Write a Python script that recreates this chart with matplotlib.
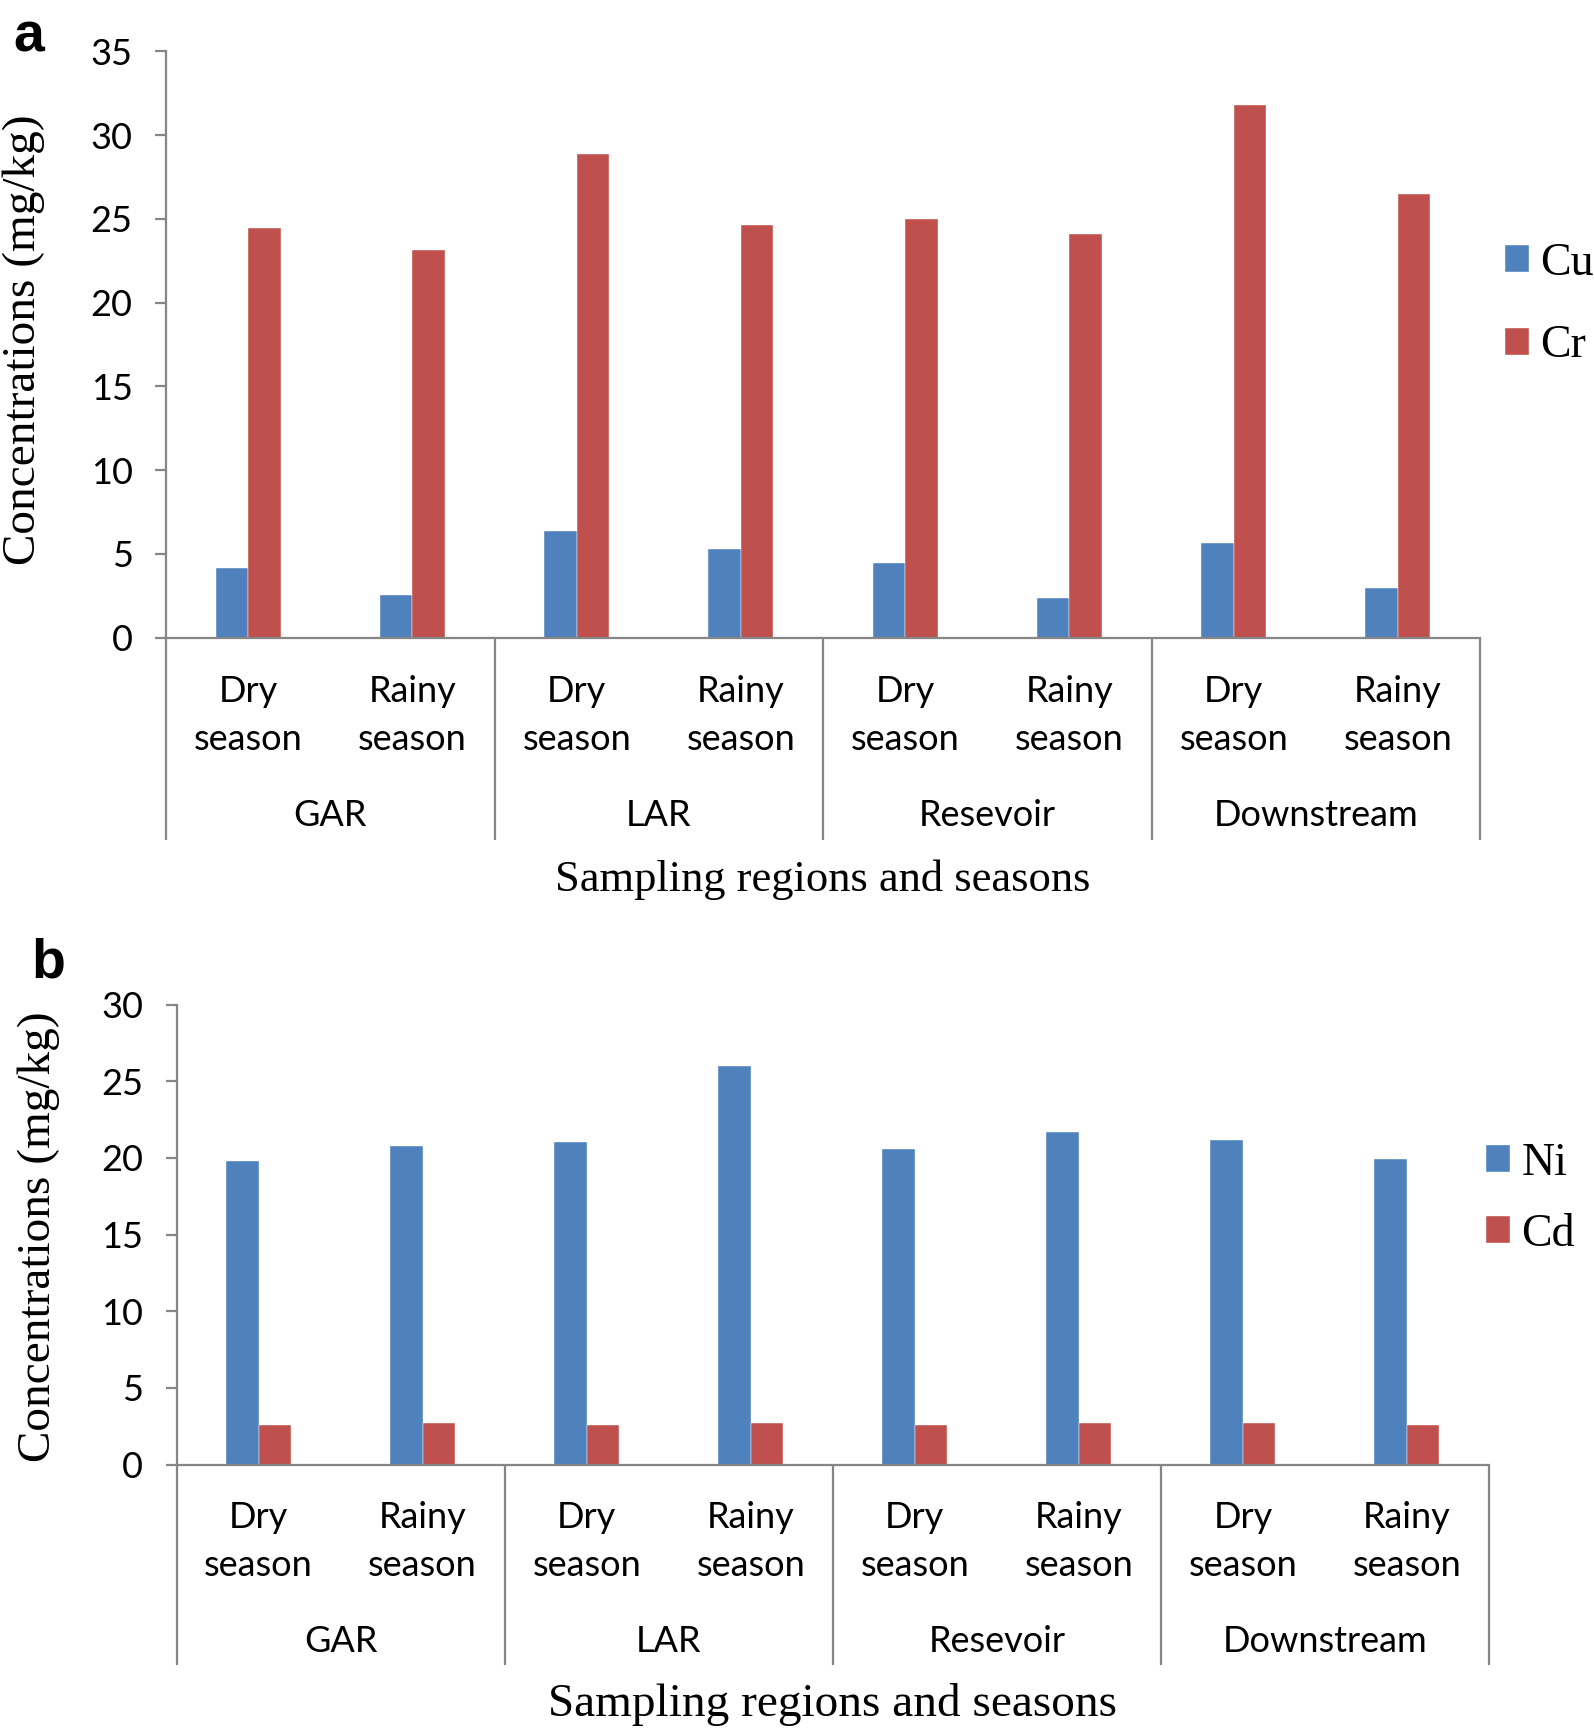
import numpy as np
import matplotlib
matplotlib.use('Agg')
import matplotlib.pyplot as plt
from matplotlib import transforms

# data
regions = ['GAR', 'LAR', 'Resevoir', 'Downstream']
seasons = ['Dry\nseason', 'Rainy\nseason']

cu = [4.17, 2.56, 6.36, 5.28, 4.44, 2.36, 5.65, 2.96]
cr = [24.47, 23.16, 28.87, 24.65, 24.97, 24.07, 31.78, 26.46]
ni = [19.78, 20.80, 21.01, 26.00, 20.61, 21.69, 21.20, 19.92]
cd = [2.58, 2.70, 2.58, 2.70, 2.58, 2.70, 2.70, 2.58]

BLUE = '#4F81BD'
RED = '#C0504D'
GREY = '#868686'
W, H = 1594, 1732
SERIF = 'Liberation Serif'
SANS = ['Lato', 'DejaVu Sans']

fig = plt.figure(figsize=(W / 100, H / 100), dpi=100)


def add_axes_px(left, top, right, bottom):
    # pixel box (from top-left) -> figure fraction
    return fig.add_axes([left / W, 1 - bottom / H, (right - left) / W, (bottom - top) / H])


def below(ax, px):
    # x in data, y = px pixels under the x axis
    return transforms.offset_copy(ax.get_xaxis_transform(), fig=fig, x=0, y=-px, units='dots')


def panel(box, s1, s2, names, ymax, offs, title_size, leg_anchor, leg_space):
    ax = add_axes_px(*box)
    x = np.arange(len(s1))
    w = 0.198
    ax.bar(x - w / 2, s1, w, color=BLUE, label=names[0], edgecolor='white', linewidth=0.3)
    ax.bar(x + w / 2, s2, w, color=RED, label=names[1], edgecolor='white', linewidth=0.3)
    ax.set_xlim(-0.5, len(s1) - 0.5)
    ax.set_ylim(0, ymax)
    ax.set_yticks(np.arange(0, ymax + 1, 5))
    ax.set_xticks([])
    for sp in ['top', 'right']:
        ax.spines[sp].set_visible(False)
    for sp in ['left', 'bottom']:
        ax.spines[sp].set_color(GREY)
        ax.spines[sp].set_linewidth(1.6)
    ax.tick_params(axis='y', direction='out', length=8, width=1.6, color=GREY,
                   labelsize=26, pad=16)
    for t in ax.get_yticklabels():
        t.set_family(SANS)

    # category labels and region dividers
    dry_off, seas_off, reg_off, div_off, title_off = offs
    for i in range(len(s1)):
        word, second = seasons[i % 2].split('\n')
        ax.text(i, 0, word, transform=below(ax, dry_off), ha='center', va='center',
                fontsize=26, family=SANS)
        ax.text(i, 0, second, transform=below(ax, seas_off), ha='center', va='center',
                fontsize=26, family=SANS)
    for j, reg in enumerate(regions):
        ax.text(2 * j + 0.5, 0, reg, transform=below(ax, reg_off), ha='center', va='center',
                fontsize=26, family=SANS)
    axh = (box[3] - box[1])
    for xb in np.arange(-0.5, len(s1), 2):
        ax.vlines(xb, -div_off / axh, 0, transform=ax.get_xaxis_transform(),
                  color=GREY, linewidth=1.6, clip_on=False)
    ax.text(3.5, 0, 'Sampling regions and seasons', transform=below(ax, title_off),
            ha='center', va='center', fontsize=title_size, family=SERIF)

    ax.legend(loc='center left', bbox_to_anchor=leg_anchor, bbox_transform=fig.transFigure,
              frameon=False, prop={'family': SERIF, 'size': 33}, handlelength=0.52,
              handleheight=0.52, handletextpad=0.25, labelspacing=leg_space,
              borderpad=0, borderaxespad=0)
    return ax


ax_a = panel((166, 51.3, 1480, 637.6), cu, cr, ['Cu', 'Cr'], 35,
             (54, 102, 178, 202, 242), 32, (1505 / W, 1 - 305 / H), 0.87)
ax_b = panel((176.5, 1004.6, 1489, 1464.6), ni, cd, ['Ni', 'Cd'], 30,
             (53, 101, 177, 200, 240), 34, (1486 / W, 1 - 1199 / H), 0.63)

fig.text(24 / W, 1 - 340 / H, 'Concentrations (mg/kg)', rotation=90, ha='center',
         va='center', fontsize=34, family=SERIF)
fig.text(39 / W, 1 - 1237 / H, 'Concentrations (mg/kg)', rotation=90, ha='center',
         va='center', fontsize=34, family=SERIF)

fig.text(13 / W, 1 - 52 / H, 'a', fontsize=40, fontweight='bold',
         family='Liberation Sans', ha='left', va='baseline')
fig.text(31 / W, 1 - 977 / H, 'b', fontsize=40, fontweight='bold',
         family='Liberation Sans', ha='left', va='baseline')

fig.savefig('out.png', dpi=100)
